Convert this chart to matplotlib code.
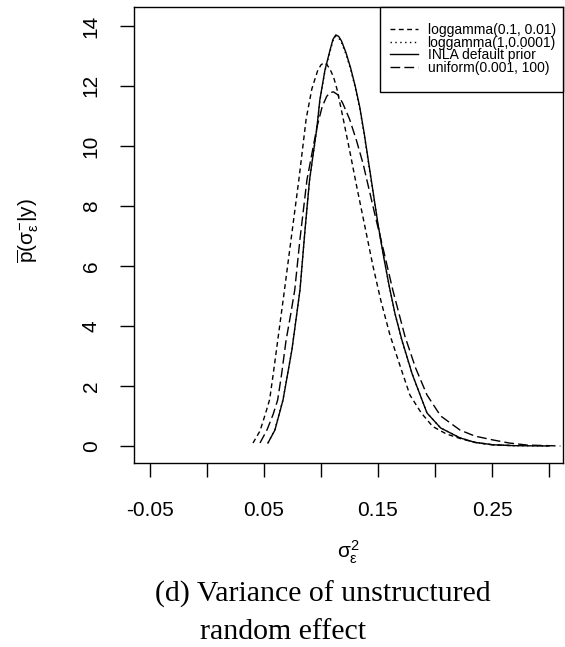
import matplotlib
matplotlib.use("Agg")
import matplotlib.pyplot as plt
from matplotlib.patches import Rectangle

plt.rcParams["font.family"] = ["Liberation Sans", "DejaVu Sans"]
plt.rcParams["mathtext.fontset"] = "custom"
plt.rcParams["mathtext.rm"] = "Liberation Sans"
plt.rcParams["mathtext.it"] = "Liberation Sans"
plt.rcParams["mathtext.sf"] = "Liberation Sans"

# posterior densities
x_lg01 = [0.0404, 0.0465, 0.0515, 0.055, 0.0585, 0.062, 0.068, 0.0745, 0.0807, 0.087,
          0.092, 0.097, 0.1000, 0.1025, 0.105, 0.108, 0.111, 0.114, 0.119, 0.1254,
          0.1316, 0.137, 0.1456, 0.1525, 0.1605, 0.170, 0.178, 0.188, 0.198, 0.210,
          0.222, 0.235, 0.250, 0.270]
y_lg01 = [0.1, 0.5, 1.1, 1.55, 2.5, 3.5, 5.2, 7.1, 8.9, 10.9,
          11.9, 12.5, 12.7, 12.77, 12.72, 12.55, 12.3, 11.9, 11.0, 9.8,
          8.6, 7.6, 6.0, 4.85, 3.7, 2.6, 1.7, 1.1, 0.65, 0.4,
          0.25, 0.12, 0.04, 0.01]

x_lg1 = [0.0535, 0.0596, 0.0667, 0.0745, 0.0816, 0.086, 0.090, 0.0965, 0.099, 0.1035,
         0.108, 0.1105, 0.113, 0.1155, 0.118, 0.122, 0.126, 0.130, 0.134, 0.138,
         0.142, 0.146, 0.150, 0.155, 0.160, 0.165, 0.171, 0.180, 0.193, 0.205,
         0.222, 0.235, 0.251, 0.270, 0.300]
y_lg1 = [0.1, 0.55, 1.55, 3.2, 5.2, 7.2, 8.85, 10.6, 11.5, 12.5,
         13.15, 13.5, 13.65, 13.6, 13.45, 13.05, 12.55, 11.95, 11.25, 10.35,
         9.35, 8.35, 7.4, 6.3, 5.3, 4.4, 3.5, 2.4, 1.1, 0.6,
         0.27, 0.12, 0.04, 0.01, 0.0]

x_inla = [0.0535, 0.0596, 0.0667, 0.0745, 0.0816, 0.086, 0.090, 0.0965, 0.099, 0.1035,
          0.108, 0.1105, 0.113, 0.1155, 0.118, 0.122, 0.126, 0.130, 0.134, 0.138,
          0.142, 0.146, 0.150, 0.155, 0.160, 0.165, 0.171, 0.180, 0.193, 0.205,
          0.222, 0.235, 0.251, 0.270, 0.300]
y_inla = [0.1, 0.53, 1.53, 3.2, 5.2, 7.2, 8.87, 10.63, 11.53, 12.53,
          13.2, 13.55, 13.7, 13.65, 13.5, 13.1, 12.6, 12.0, 11.3, 10.4,
          9.4, 8.4, 7.4, 6.3, 5.3, 4.4, 3.53, 2.4, 1.1, 0.6,
          0.27, 0.12, 0.04, 0.01, 0.0]

x_unif = [0.0465, 0.0526, 0.058, 0.062, 0.0655, 0.0693, 0.0735, 0.077, 0.0816, 0.0877,
          0.0965, 0.101, 0.105, 0.108, 0.111, 0.115, 0.119, 0.125, 0.131, 0.137,
          0.1425, 0.148, 0.155, 0.163, 0.1737, 0.183, 0.193, 0.205, 0.222, 0.235,
          0.251, 0.265, 0.281, 0.310]
y_unif = [0.1, 0.53, 1.05, 1.53, 2.4, 3.5, 4.4, 5.2, 6.9, 8.87,
          10.63, 11.3, 11.65, 11.78, 11.8, 11.7, 11.43, 10.9, 10.2, 9.4,
          8.5, 7.6, 6.5, 5.2, 3.65, 2.6, 1.7, 1.0, 0.53, 0.33,
          0.2, 0.1, 0.03, 0.0]

labels = ["loggamma(0.1, 0.01)", "loggamma(1,0.0001)", "INLA default prior", "uniform(0.001, 100)"]

x_ticks = [-0.05, 0.0, 0.05, 0.1, 0.15, 0.2, 0.25, 0.3]
x_ticklabels = ["-0.05", "", "0.05", "", "0.15", "", "0.25", ""]
y_ticks = [0, 2, 4, 6, 8, 10, 12, 14]

fig = plt.figure(figsize=(5.65, 6.47), dpi=100)
ax = fig.add_axes([134 / 565, 1 - 463 / 647, 429 / 565, 456 / 647])

ax.plot(x_lg01, y_lg01, color="black", lw=1.0, dashes=(3.5, 2.5), label=labels[0])
ax.plot(x_lg1, y_lg1, color="black", lw=1.0, dashes=(1, 2.5), label=labels[1])
ax.plot(x_inla, y_inla, color="black", lw=1.0, label=labels[2])
ax.plot(x_unif, y_unif, color="black", lw=1.0, dashes=(7, 3), label=labels[3])

ax.set_xlim(-0.064, 0.3123)
ax.set_ylim(-0.567, 14.63)

ax.set_xticks(x_ticks)
ax.set_xticklabels(x_ticklabels)
ax.set_yticks(y_ticks)
ax.set_yticklabels([str(v) for v in y_ticks], rotation=90, va="center")
ax.tick_params(axis="both", direction="out", length=10, width=1.0, labelsize=15, color="black")
ax.tick_params(axis="x", pad=17)
ax.tick_params(axis="y", pad=14)
for s in ax.spines.values():
    s.set_linewidth(1.0)

ax.set_xlabel(r"$\sigma_\varepsilon^2$", fontsize=15, labelpad=14)
fig.text(28 / 565, 1 - 231 / 647, r"$\overline{\mathrm{p}}(\sigma_\varepsilon^{-}|\mathrm{y})$",
         rotation=90, ha="center", va="center", fontsize=15)

# legend box drawn by hand so it sits where the R one does
box = Rectangle((380 / 565, 1 - 92 / 647), 183 / 565, 85 / 647, transform=fig.transFigure,
                facecolor="white", edgecolor="black", lw=1.0, zorder=4, clip_on=False)
ax.add_patch(box)
leg = ax.legend(loc="upper left", bbox_to_anchor=(390 / 565, 1 - 23 / 647), bbox_transform=fig.transFigure,
                fontsize=10, frameon=False, borderpad=0, borderaxespad=0,
                handlelength=2.0, handletextpad=0.7, labelspacing=-0.1)
leg.set_zorder(5)

fig.text(155 / 565, 1 - 602 / 647, "(d) Variance of unstructured", family="Liberation Serif",
         fontsize=21.5, ha="left", va="baseline")
fig.text(200 / 565, 1 - 639 / 647, "random effect", family="Liberation Serif",
         fontsize=21.5, ha="left", va="baseline")

fig.savefig("out.png", dpi=100)
